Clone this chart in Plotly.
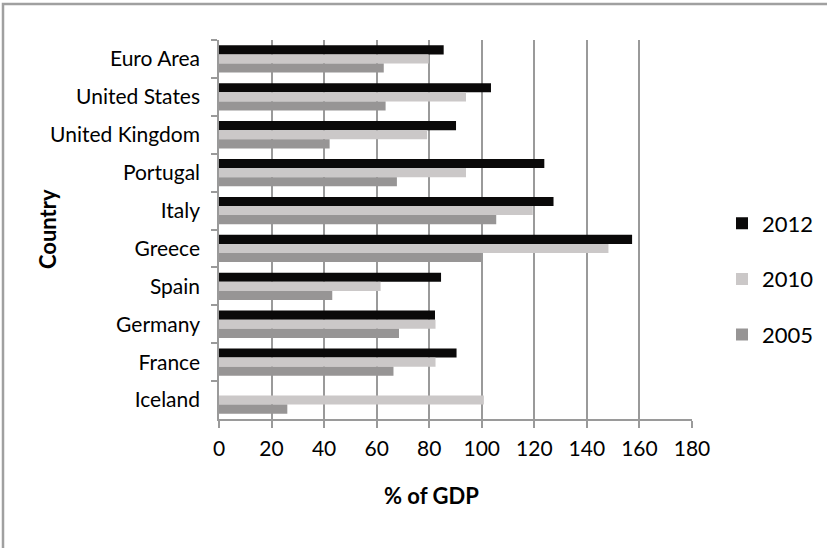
import plotly.graph_objects as go

countries = ["Euro Area", "United States", "United Kingdom", "Portugal", "Italy",
             "Greece", "Spain", "Germany", "France", "Iceland"]
v2012 = [85.5, 103.5, 90.2, 123.8, 127.3, 157.2, 84.5, 82.2, 90.4, None]
v2010 = [79.8, 94.0, 79.2, 94.0, 119.4, 148.2, 61.5, 82.4, 82.4, 100.8]
v2005 = [62.7, 63.4, 42.1, 67.7, 105.5, 99.8, 43.1, 68.5, 66.4, 26.0]
x_ticks = list(range(0, 181, 20))

W, H = 827, 548
L, R, T, B = 219, 135, 40, 129
PW, PH = W - L - R, H - T - B

def px(x):
    return (x - L) / PW

def py(y):
    return 1 - (y - T) / PH

FONT = "Lato, Liberation Sans Narrow, Open Sans, sans-serif"

fig = go.Figure()
for name, vals, col in [("2012", v2012, "#0a0909"), ("2010", v2010, "#cbc8c8"), ("2005", v2005, "#979595")]:
    fig.add_trace(go.Bar(name=name, y=countries, x=vals, orientation="h",
                         marker=dict(color=col, line=dict(width=0)), legendgroup=name))

fig.update_layout(
    width=W, height=H, margin=dict(l=L, r=R, t=T, b=B, autoexpand=False),
    paper_bgcolor="white", plot_bgcolor="white",
    barmode="group", bargap=0.28, bargroupgap=0,
    font=dict(family=FONT, size=21, color="black"),
    showlegend=True,
    legend=dict(x=px(722), xanchor="left", y=py(279), yanchor="middle",
                traceorder="grouped", tracegroupgap=24, font=dict(size=22),
                bgcolor="rgba(0,0,0,0)"),
    xaxis=dict(range=[0, 180], tickvals=x_ticks, showgrid=True, gridcolor="#9a9a9a",
               gridwidth=1.5, showline=True, linecolor="#9a9a9a", linewidth=1.5,
               ticks="outside", ticklen=7, tickcolor="#9a9a9a", tickwidth=1.5,
               ticklabelstandoff=3, tickfont=dict(size=21), zeroline=False, fixedrange=True),
    yaxis=dict(autorange="reversed", categoryorder="array", categoryarray=countries,
               showline=True, linecolor="#9a9a9a", linewidth=1.5, ticks="outside",
               tickson="boundaries", ticklen=6, tickcolor="#9a9a9a", tickwidth=1.5,
               ticklabelstandoff=13, tickfont=dict(size=21), showgrid=False, fixedrange=True),
    annotations=[
        dict(text="<b>Country</b>", xref="paper", yref="paper", x=px(47), y=py(229),
             xanchor="center", yanchor="middle",
             textangle=-90, showarrow=False, font=dict(size=22)),
        dict(text="<b>% of GDP</b>", xref="paper", yref="paper", x=px(431), y=py(495),
             xanchor="center", yanchor="middle", showarrow=False, font=dict(size=22)),
    ],
    shapes=[
        dict(type="rect", xref="paper", yref="paper", x0=px(3), x1=px(840),
             y0=py(560), y1=py(4), line=dict(color="#a0a0a0", width=2.5), layer="below"),
    ],
)

fig.write_html("out.html")
